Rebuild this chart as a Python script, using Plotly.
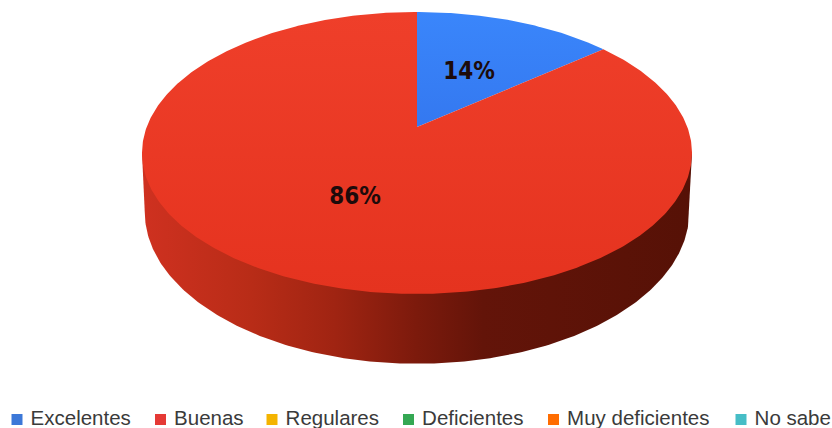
import numpy as np
import plotly.graph_objects as go

categories = ["Excelentes", "Buenas", "Regulares", "Deficientes", "Muy deficientes", "No sabe"]
values = [14, 86, 0, 0, 0, 0]
legend_colors = ["#3c78d8", "#e53935", "#f4b400", "#34a853", "#ff6d01", "#46bdc6"]
legend_x = [17, 160.5, 272, 408.5, 553.5, 741]
legend_y = 419.5
label_pos = [(469, 73), (355, 198)]

# Projection of the tilted disc onto the page
CX, CY, K, A, B, D, S = 417, 127, 0.184, 136.2, 270.3, 57, 0.99


def top(theta):
    u, v = np.sin(theta), np.cos(theta)
    w = 1 + K * v
    return CX + B * u / w, CY - A * v / w


def bottom(theta):
    u, v = np.sin(theta), np.cos(theta)
    w = 1 + K * v
    return CX + S * B * u / w, CY - A * v / w + D / w


fig = go.Figure()

# Side wall
t0 = np.arccos(-K)
th = np.linspace(t0, 2 * np.pi - t0, 240)
bx, by = bottom(th)
tx1, ty1 = top(np.array([t0]))
tx2, ty2 = top(np.array([2 * np.pi - t0]))
fig.add_trace(go.Scatter(
    x=np.r_[tx1, bx, tx2], y=np.r_[ty1, by, ty2], mode="lines", line=dict(width=0),
    fill="toself", hoverinfo="skip", showlegend=False,
    fillgradient=dict(type="horizontal", colorscale=[
        [0, "#cf3120"], [0.2, "#b82c17"], [0.35, "#a02412"], [0.5, "#7c1a0c"],
        [0.62, "#631409"], [1, "#561106"]]),
))

# Top wedges
fracs = np.cumsum([0] + values) / sum(values)
grads = {0: ["#3a86fb", "#3478f0"], 1: ["#ef3f2a", "#e5331f"]}
for i, v in enumerate(values):
    if v == 0:
        continue
    a = np.linspace(fracs[i], fracs[i + 1], max(int(v * 6), 20)) * 2 * np.pi
    ex, ey = top(a)
    fig.add_trace(go.Scatter(
        x=np.r_[CX, ex, CX], y=np.r_[CY, ey, CY], mode="lines",
        line=dict(width=0), fill="toself", hoverinfo="skip", showlegend=False,
        fillgradient=dict(type="vertical", colorscale=[[0, grads[i][1]], [1, grads[i][0]]]),
    ))

# Percentage labels
nz = [(v, p) for v, p in zip([x for x in values if x], label_pos)]
fig.add_trace(go.Scatter(
    x=[p[0] for _, p in nz], y=[p[1] for _, p in nz], mode="text",
    text=[f"{v}%" for v, _ in nz], hoverinfo="skip", showlegend=False,
    textfont=dict(family="DejaVu Sans Condensed, Liberation Sans", size=24, color="#1d0b0b", weight="bold"),
))

# Legend
for name, col, lx in zip(categories, legend_colors, legend_x):
    fig.add_trace(go.Scatter(
        x=[lx], y=[legend_y], mode="markers+text", name=name, text=["\u00a0" + name],
        textposition="middle right", showlegend=False,
        marker=dict(symbol="square", size=11, color=col),
        textfont=dict(family="Liberation Sans, Arial", size=20.5, color="#3a3a3a"),
    ))

fig.update_layout(
    width=832, height=428, margin=dict(l=0, r=0, t=0, b=0),
    paper_bgcolor="white", plot_bgcolor="white",
    xaxis=dict(range=[0, 832], visible=False, fixedrange=True),
    yaxis=dict(range=[428, 0], visible=False, fixedrange=True),
)
fig.write_html("out.html", post_script="document.body.style.margin='0';",
               config=dict(displayModeBar=False))
